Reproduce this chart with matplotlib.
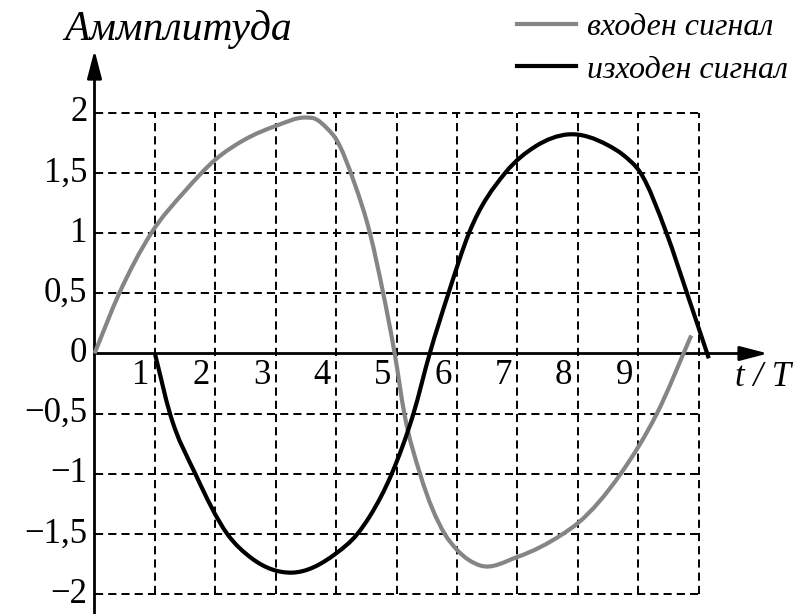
import matplotlib
matplotlib.use("Agg")
import matplotlib.pyplot as plt
from matplotlib.path import Path
from matplotlib.patches import PathPatch

plt.rcParams['font.family'] = ['Liberation Serif', 'DejaVu Serif']

# ---- data ----
input_x = [0.0, 0.41, 0.94, 1.5, 2.0, 2.5, 3.0, 3.5, 3.65, 3.85, 4.0, 4.3, 4.56, 4.78,
           4.97, 5.13, 5.39, 5.8, 6.0, 6.38, 7.0, 7.75, 8.0, 8.71, 9.31, 9.88]
input_y = [0.0, 0.5, 1.0, 1.35, 1.61, 1.78, 1.89, 1.96, 1.95, 1.87, 1.78, 1.42, 1.0, 0.5,
           0.0, -0.5, -1.0, -1.5, -1.63, -1.76, -1.69, -1.5, -1.41, -1.0, -0.5, 0.15]

output_x = [1.0, 1.25, 1.67, 2.2, 2.6, 3.27, 4.0, 4.35, 4.56, 4.92, 5.28, 5.55, 5.86, 6.2, 6.8,
            7.3, 7.85, 8.5, 8.75, 9.04, 9.47, 9.81, 10.17]
output_y = [0.0, -0.5, -1.0, -1.5, -1.7, -1.82, -1.66, -1.5, -1.35, -1.0, -0.5, 0.0, 0.5, 1.0, 1.5,
            1.72, 1.82, 1.73, 1.65, 1.5, 1.0, 0.5, -0.04]

x_ticks = [1, 2, 3, 4, 5, 6, 7, 8, 9]
x_tick_labels = ['1', '2', '3', '4', '5', '6', '7', '8', '9']
y_ticks = [2, 1.5, 1, 0.5, 0, -0.5, -1, -1.5, -2]
y_tick_labels = ['2', '1,5', '1', '0,5', '0', '−0,5', '−1', '−1,5', '−2']
grid_x = [1, 2, 3, 4, 5, 6, 7, 8, 9, 10]
grid_y = [2, 1.5, 1, 0.5, -0.5, -1, -1.5, -2]

series_labels = ['входен сигнал', 'изходен сигнал']
series_colors = ['#858585', '#000000']
y_title = 'Аммплитуда'
x_title = 't / T'


def smooth_path(xs, ys):
    """Cubic Hermite (Bezier) path through the read points, tangents from
    non-uniform three-point differences."""
    n = len(xs)
    h = [xs[i + 1] - xs[i] for i in range(n - 1)]
    d = [(ys[i + 1] - ys[i]) / h[i] for i in range(n - 1)]
    m = [0.0] * n
    m[0] = d[0]
    m[-1] = d[-1]
    for i in range(1, n - 1):
        m[i] = (d[i - 1] * h[i] + d[i] * h[i - 1]) / (h[i - 1] + h[i])
    verts = [(xs[0], ys[0])]
    codes = [Path.MOVETO]
    for i in range(n - 1):
        c1 = (xs[i] + h[i] / 3, ys[i] + m[i] * h[i] / 3)
        c2 = (xs[i + 1] - h[i] / 3, ys[i + 1] - m[i + 1] * h[i] / 3)
        verts += [c1, c2, (xs[i + 1], ys[i + 1])]
        codes += [Path.CURVE4] * 3
    return Path(verts, codes)


# ---- figure ----
W, H = 793, 614
fig = plt.figure(figsize=(W / 100, H / 100), dpi=100)
ax = fig.add_axes([0, 0, 1, 1])
ox, oy = 94.5, 353.5
ux, uy = 60.4, 120.4
ax.set_xlim(-ox / ux, (W - ox) / ux)
ax.set_ylim(-(H - oy) / uy, oy / uy)
ax.axis('off')

dash = (0, (4.2, 2.6))
ax.hlines(grid_y, 0, 10, colors='black', linewidth=1.4, linestyles=dash, zorder=1)
ax.vlines(grid_x, -2, 2, colors='black', linewidth=1.4, linestyles=dash, zorder=1)

# axes with arrows
arrow = dict(arrowstyle='-|>,head_length=0.85,head_width=0.22',
             lw=2.0, color='black', mutation_scale=20, shrinkA=0, shrinkB=0)
ax.annotate('', xy=(11.15, 0), xytext=(0, 0), arrowprops=arrow, zorder=3)
ax.annotate('', xy=(0, 2.52), xytext=(0, -2.3), arrowprops=arrow, zorder=3)

handles = []
for xs, ys, c, z in [(input_x, input_y, series_colors[0], 4),
                     (output_x, output_y, series_colors[1], 5)]:
    patch = PathPatch(smooth_path(xs, ys), facecolor='none', edgecolor=c, lw=3.0,
                      joinstyle='round', capstyle='butt', zorder=z)
    ax.add_patch(patch)
    h, = ax.plot([], [], color=c, lw=3.0)
    handles.append(h)

fs = 25
for t, lab in zip(x_ticks, x_tick_labels):
    ax.text(t - 0.23, -0.18, lab, ha='center', va='center', fontsize=fs)
for t, lab in zip(y_ticks, y_tick_labels):
    ax.text(-0.12, t, lab, ha='right', va='center', fontsize=fs)

ax.text(1.385, 2.6, y_title, ha='center', va='baseline', fontsize=30, style='italic')
ax.text(11.07, -0.2, x_title, ha='center', va='center', fontsize=fs, style='italic')

ax.legend(handles, series_labels, loc='upper left',
          bbox_to_anchor=(517 / W, 1 - 13 / H), bbox_transform=fig.transFigure,
          frameon=False, borderpad=0, borderaxespad=0, handlelength=1.85,
          handletextpad=0.35, labelspacing=0.4,
          prop={'family': 'Liberation Serif', 'style': 'italic', 'size': 23})

fig.savefig('out.png', dpi=100)
